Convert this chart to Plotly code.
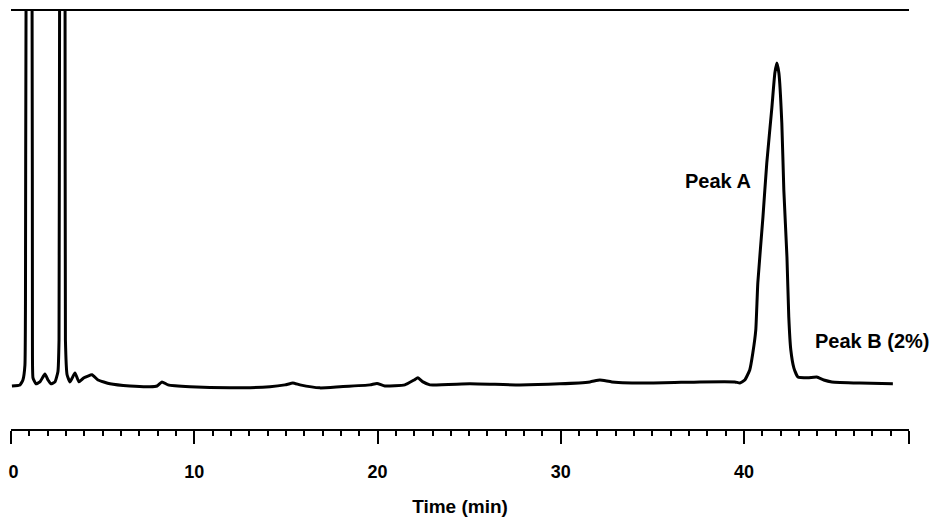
import plotly.graph_objects as go

# Digitised chromatogram: retention time (min) and detector signal (% of full scale)
time_min = [
    0.05, 0.49, 0.65, 0.76, 0.79, 0.82, 0.98, 1.15, 1.17, 1.20,
    1.36, 1.58, 1.85, 2.02, 2.18, 2.40, 2.56, 2.62, 2.65, 2.78,
    2.95, 2.97, 3.06, 3.22, 3.49, 3.71, 3.98, 4.42, 4.75, 5.40,
    6.49, 7.58, 7.97, 8.24, 8.57, 9.77, 11.95, 14.13, 14.95, 15.38,
    15.77, 16.86, 17.95, 19.59, 19.97, 20.40, 21.49, 21.99, 22.20, 22.48,
    22.86, 25.04, 27.77, 29.95, 31.59, 32.13, 32.79, 34.86, 37.59, 39.50,
    39.77, 40.04, 40.31, 40.48, 40.64, 40.75, 41.03, 41.24, 41.52, 41.68,
    41.79, 41.90, 42.06, 42.17, 42.34, 42.44, 42.55, 42.72, 42.94, 43.48,
    43.97, 44.35, 44.79, 46.32, 48.12,
]
signal = [
    -0.3, 0.0, 1.3, 5.3, 22.7, 100.0, 143.0, 100.0, 12.0, 1.9,
    0.3, 0.8, 2.9, 1.3, 0.3, 0.8, 3.5, 12.0, 100.0, 150.0,
    100.0, 12.0, 2.7, 0.8, 3.2, 0.8, 1.9, 2.7, 1.3, 0.3,
    -0.3, -0.5, -0.3, 0.8, 0.0, -0.5, -0.8, -0.5, 0.0, 0.5,
    0.0, -0.8, -0.5, 0.0, 0.4, -0.3, 0.0, 1.3, 1.9, 0.8,
    0.0, 0.3, 0.0, 0.3, 0.8, 1.3, 0.8, 0.5, 0.8, 0.8,
    0.5, 1.3, 4.0, 8.6, 14.7, 27.3, 44.9, 59.4, 74.3, 83.4,
    86.1, 83.4, 70.1, 52.1, 34.2, 18.2, 9.4, 4.5, 2.1, 1.9,
    2.1, 1.3, 0.8, 0.5, 0.3,
]

major_ticks = [0, 10, 20, 30, 40, 49]
major_labels = ["\u00a00", "10", "20", "30", "40", ""]

peak_labels = ["Peak A", "Peak B (2%)"]
peak_label_time = [38.57, 47.03]
peak_label_signal = [54.5, 11.8]

FONT = "Liberation Sans, Arial, sans-serif"

fig = go.Figure()
fig.add_trace(go.Scatter(
    x=time_min, y=signal, mode="lines",
    line=dict(color="black", width=3, shape="spline", smoothing=0.4),
    hoverinfo="skip", showlegend=False,
))

for txt, tx, sy in zip(peak_labels, peak_label_time, peak_label_signal):
    fig.add_annotation(
        x=tx, y=sy, text=txt, showarrow=False,
        xanchor="center", yanchor="middle",
        font=dict(family=FONT, size=20, color="black", weight="bold"),
    )

fig.update_layout(
    width=933, height=517,
    margin=dict(l=11, r=24, t=11, b=88, autoexpand=False),
    paper_bgcolor="white", plot_bgcolor="white",
    showlegend=False,
    xaxis=dict(
        range=[0, 49], showgrid=False, zeroline=False, automargin=False,
        showline=True, linecolor="black", linewidth=2, mirror=True,
        ticks="outside", ticklen=13, tickwidth=2, tickcolor="black",
        tickvals=major_ticks, ticktext=major_labels,
        ticklabelstandoff=12, ticklabeloverflow="allow",
        tickfont=dict(family=FONT, size=18, color="black", weight="bold"),
        minor=dict(ticks="outside", ticklen=5, tickwidth=2, tickcolor="black", dtick=1, showgrid=False),
        title=dict(text="Time (min)", standoff=20,
                   font=dict(family=FONT, size=19, color="black", weight="bold")),
    ),
    yaxis=dict(
        range=[-11.8, 100], visible=False, showgrid=False, zeroline=False,
    ),
)

fig.write_html(
    "out.html",
    config={"displayModeBar": False},
    post_script="document.body.style.margin='0';document.body.style.overflow='hidden';",
)
